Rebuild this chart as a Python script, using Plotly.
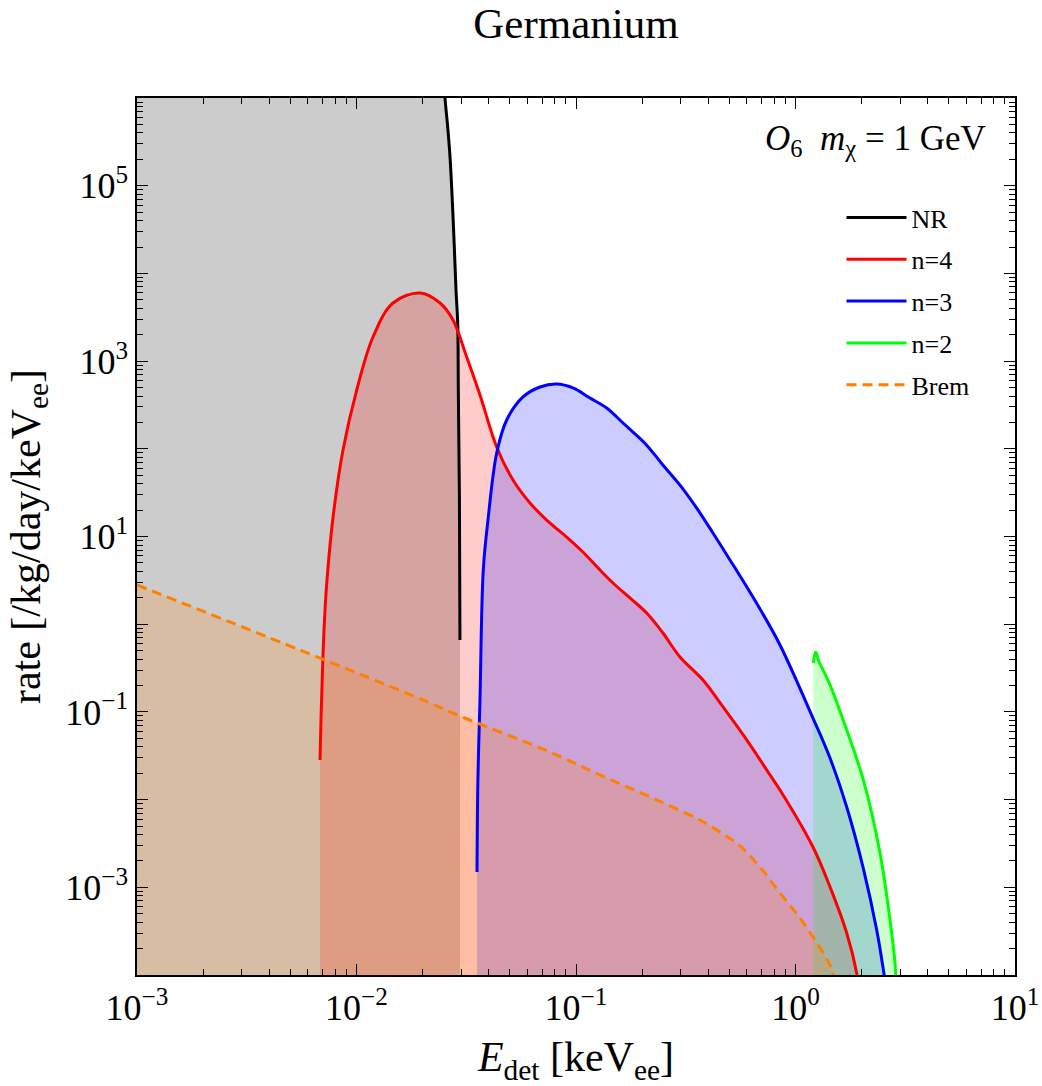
import plotly.graph_objects as go

# ---------------- data ----------------
nr_E = [0.001, 0.0246, 0.0253, 0.02598, 0.02667, 0.02761, 0.0284, 0.02891, 0.0291, 0.02944, 0.0296]
nr_R = [1e12, 3.0e6, 1.0e6, 4.92e5, 2.14e5, 3.76e4, 6.47e3, 2.72e3, 468, 26, 0.66]

n4_E = [0.00682, 0.00689, 0.00694, 0.00711, 0.00732, 0.00782, 0.00868, 0.01002, 0.01189,
        0.01466, 0.01947, 0.02402, 0.02751, 0.03177, 0.03652, 0.04352, 0.05164, 0.06172,
        0.07353, 0.09071, 0.1076, 0.1286, 0.1474, 0.1762, 0.2099, 0.2489, 0.2977, 0.3790,
        0.4675, 0.5993, 0.7653, 0.850, 1.201, 1.436, 1.711, 1.900, 1.927]
n4_R = [0.0283, 0.0809, 0.148, 0.859, 2.95, 16.7, 96.9, 468, 1884,
        4598, 5977, 4598, 2943, 1114, 411, 105, 44.1, 24.1,
        15.4, 9.86, 6.65, 4.15, 2.95, 1.99, 1.34, 0.794, 0.423, 0.231,
        0.1138, 0.0479, 0.0191, 0.01285, 0.00288, 0.00101, 3.01e-4, 1.05e-4, 8e-5]

n3_E = [0.03540, 0.03573, 0.03652, 0.03781, 0.03972, 0.04352, 0.04833, 0.05734, 0.06855,
        0.08168, 0.09690, 0.1158, 0.1380, 0.1637, 0.1818, 0.2099, 0.2489, 0.2977, 0.3548,
        0.4207, 0.5030, 0.5588, 0.6892, 0.8500, 1.201, 1.436, 1.711, 2.030, 2.344, 2.503, 2.556]
n3_R = [0.00149, 0.01675, 0.1368, 4.15, 15.4, 89.5, 213, 390, 507,
        548, 494, 379, 292, 197, 155, 110, 65.3, 38.6, 21.1,
        10.96, 5.40, 3.55, 1.49, 0.579, 0.0851, 0.0298, 0.00824, 0.00170, 3.26e-4, 1.23e-4, 8.7e-5]

n2_E = [1.205, 1.236, 1.280, 1.321, 1.436, 1.711, 2.037, 2.427, 2.695, 2.840, 2.870]
n2_R = [0.361, 0.482, 0.371, 0.317, 0.203, 0.0622, 0.01675, 0.00246, 4.24e-4, 1.37e-4, 8e-5]

brem_E = [0.001, 0.005529, 0.02009, 0.0296, 0.0761, 0.1286, 0.2174, 0.3672, 0.4529, 0.5588,
          0.6892, 0.850, 1.048, 1.201, 1.363, 1.466, 1.50]
brem_R = [2.80, 0.508, 0.1368, 0.0898, 0.0349, 0.0191, 0.01072, 0.00585, 0.00427, 0.00296,
          0.00170, 8.6e-4, 4.47e-4, 2.71e-4, 1.65e-4, 1.14e-4, 8e-5]

x_tickvals = [1e-3, 1e-2, 1e-1, 1e0, 1e1]
x_ticktext = ["10<sup>\u22123</sup>", "10<sup>\u22122</sup>", "10<sup>\u22121</sup>", "10<sup>0</sup>", "10<sup>1</sup>"]
y_tickvals = [1e-4, 1e-3, 1e-2, 1e-1, 1e0, 1e1, 1e2, 1e3, 1e4, 1e5, 1e6]
y_ticktext = ["", "10<sup>\u22123</sup>", "", "10<sup>\u22121</sup>", "", "10<sup>1</sup>", "",
              "10<sup>3</sup>", "", "10<sup>5</sup>", ""]

Y_FLOOR = 1e-4
FONT = "Liberation Serif"

series = [
    # name, E, R, line colour, fill colour, dash, shape
    ("NR", nr_E, nr_R, "black", "rgba(0,0,0,0.2)", "solid", "spline"),
    ("n=4", n4_E, n4_R, "rgb(255,0,0)", "rgba(255,0,0,0.2)", "solid", "spline"),
    ("n=3", n3_E, n3_R, "rgb(0,0,255)", "rgba(0,0,255,0.2)", "solid", "spline"),
    ("n=2", n2_E, n2_R, "rgb(0,255,0)", "rgba(0,255,0,0.2)", "solid", "spline"),
    ("Brem", brem_E, brem_R, "rgb(255,128,0)", "rgba(255,128,0,0.2)", "10px,6px", "spline"),
]

fig = go.Figure()

# filled areas under each curve (down to the bottom of the axis)
for name, E, R, lc, fc, dash, shape in series:
    fig.add_trace(go.Scatter(
        x=list(E) + [E[-1], E[0]],
        y=list(R) + [Y_FLOOR, Y_FLOOR],
        mode="lines", fill="toself", fillcolor=fc,
        line=dict(width=0), hoverinfo="skip", showlegend=False))

# curves
for i, (name, E, R, lc, fc, dash, shape) in enumerate(series):
    fig.add_trace(go.Scatter(
        x=E, y=R, mode="lines", name=name, legendgroup=f"g{i}",
        line=dict(color=lc, width=3, dash=dash, shape=shape, smoothing=1.0)))

minor_x = [m * 10.0 ** d for d in range(-3, 1) for m in range(2, 10)]
minor_y = [m * 10.0 ** d for d in range(-4, 6) for m in range(2, 10)]

axis_common = dict(
    type="log", showline=True, mirror="allticks", linecolor="black", linewidth=1.5,
    ticks="inside", ticklen=11, tickwidth=1.3, tickcolor="black",
    showgrid=False, zeroline=False,
    tickfont=dict(family=FONT, size=36, color="black"),
)

fig.update_xaxes(
    **axis_common, range=[-3, 1],
    tickvals=x_tickvals, ticktext=x_ticktext,
    minor=dict(ticks="inside", ticklen=6, tickwidth=1, tickcolor="black", tickvals=minor_x),
    title=dict(text="<i>E</i><sub>det</sub> [keV<sub>ee</sub>]",
               font=dict(family=FONT, size=42, color="black"), standoff=20),
)
fig.update_yaxes(
    **axis_common, range=[-4, 6],
    tickvals=y_tickvals, ticktext=y_ticktext,
    minor=dict(ticks="inside", ticklen=6, tickwidth=1, tickcolor="black", tickvals=minor_y),
    title=dict(text="rate [/kg/day/keV<sub>ee</sub>]",
               font=dict(family=FONT, size=42, color="black"), standoff=12),
)

fig.update_layout(
    width=1042, height=1086,
    margin=dict(l=137, r=27, t=98, b=111, autoexpand=False),
    paper_bgcolor="white", plot_bgcolor="white",
    title=dict(text="Germanium", x=0.5, xref="paper", xanchor="center",
               y=1 - 23 / 1086, yref="container", yanchor="middle",
               font=dict(family=FONT, size=43, color="black")),
    legend=dict(x=0.8024, y=0.8904, xanchor="left", yanchor="top",
                bgcolor="rgba(0,0,0,0)", borderwidth=0,
                font=dict(family=FONT, size=26, color="black"),
                tracegroupgap=5, traceorder="grouped", itemwidth=60),
    annotations=[dict(
        text="<i>O</i><sub>6</sub>  <i>m</i><sub>\u03c7</sub> = 1 GeV",
        x=0.969, y=0.952, xref="paper", yref="paper", xanchor="right", yanchor="middle",
        showarrow=False, font=dict(family=FONT, size=35, color="black"))],
)

fig.write_html("out.html")
